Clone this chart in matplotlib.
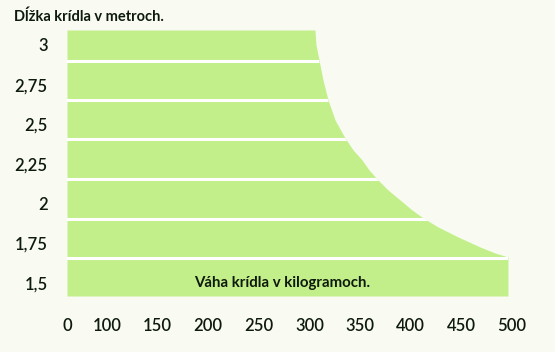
import numpy as np
import matplotlib
matplotlib.use("Agg")
import matplotlib.pyplot as plt

# ---- data ----
wing_length = [3.094, 3.0, 2.906, 2.780, 2.654, 2.528, 2.414, 2.339, 2.276, 2.213, 2.156, 2.087,
               2.024, 1.961, 1.911, 1.854, 1.791, 1.728, 1.690, 1.665, 1.419]
wing_weight = [305.4, 306.4, 309.4, 313.3, 318.3, 325.2, 335.1, 343.0, 351.9, 358.8, 366.7, 377.5,
               389.4, 401.2, 412.1, 426.9, 446.7, 468.4, 483.2, 496.0, 496.0]
y_ticks = [3.0, 2.75, 2.5, 2.25, 2.0, 1.75, 1.5]
y_tick_labels = ["3", "2,75", "2,5", "2,25", "2", "1,75", "1,5"]
x_ticks = [0, 100, 150, 200, 250, 300, 350, 400, 450, 500]
x_tick_labels = ["0", "100", "150", "200", "250", "300", "350", "400", "450", "500"]
separators = [2.90, 2.655, 2.41, 2.155, 1.905, 1.66]
title = "Dĺžka krídla v metroch."
x_title = "Váha krídla v kilogramoch."

BG = "#f9fbf3"
FILL = "#c2ef8a"
TXT = "#0e1a0c"
FONT = ["Lato", "DejaVu Sans"]

W, H = 555, 352
fig = plt.figure(figsize=(W / 100, H / 100), dpi=100, facecolor=BG)

left_px, right_px, top_px, bot_px = 67, 530, 30, 296
ax = fig.add_axes([left_px / W, 1 - bot_px / H, (right_px - left_px) / W, (bot_px - top_px) / H])
ax.set_facecolor(BG)


def fwd(x):
    x = np.asarray(x, dtype=float)
    return np.where(x < 100, x * 0.4, 40 + (x - 100) * 1.0125)


def inv(v):
    v = np.asarray(v, dtype=float)
    return np.where(v < 40, v / 0.4, 100 + (v - 40) / 1.0125)


ax.set_xscale("function", functions=(fwd, inv))
ax.set_xlim(0, 100 + (right_px - left_px - 40) / 1.0125)
ax.set_ylim(1.419, 3.094)

area = ax.fill_betweenx(wing_length, 0, wing_weight, color=FILL, lw=0, zorder=1)
clip = area.get_paths()[0]
for s in separators:
    ln = ax.axhline(s, color="white", lw=2.2, zorder=2)
    ln.set_clip_path(clip, ax.transData)

for sp in ax.spines.values():
    sp.set_visible(False)

ax.set_yticks(y_ticks)
ax.set_yticklabels(y_tick_labels, family=FONT, fontsize=12, fontweight="semibold", color=TXT)
ax.set_xticks(x_ticks)
ax.set_xticklabels(x_tick_labels, family=FONT, fontsize=12, fontweight="semibold", color=TXT)
ax.tick_params(axis="y", length=0, pad=14)
ax.tick_params(axis="x", length=0, pad=16)
ax.minorticks_off()

fig.text(14 / W, 1 - 17 / H, title, ha="left", va="center", fontsize=10.5,
         fontweight="bold", family=FONT, color=TXT)
fig.text(282 / W, 1 - 283 / H, x_title, ha="center", va="center", fontsize=10.8,
         fontweight="bold", family=FONT, color=TXT)

fig.savefig("out.png", dpi=100, facecolor=BG)
